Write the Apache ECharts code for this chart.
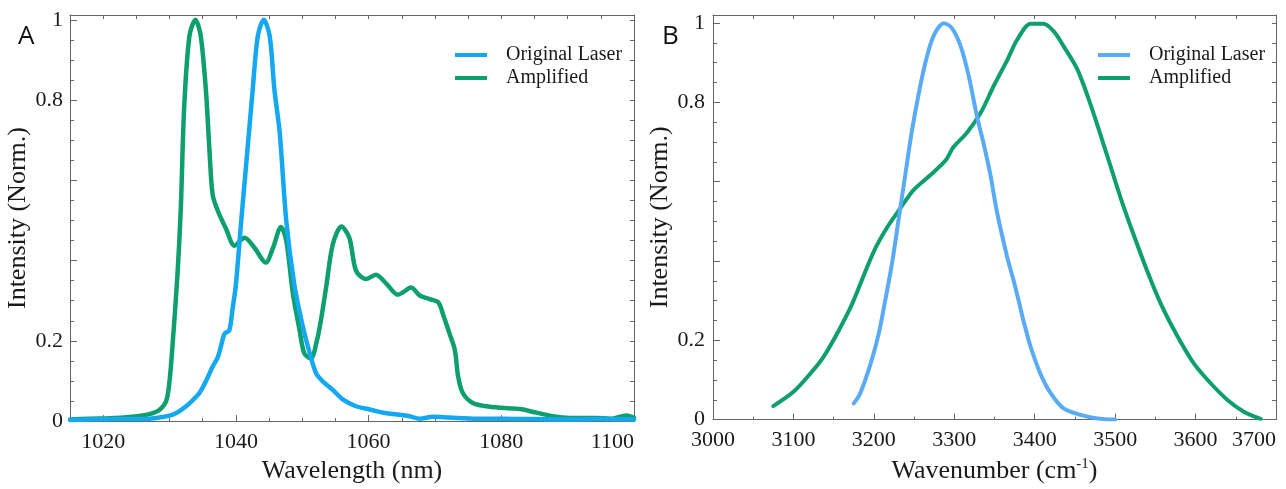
<!DOCTYPE html>
<html>
<head>
<meta charset="utf-8">
<script src="https://cdn.jsdelivr.net/npm/echarts@6/dist/echarts.min.js"></script>
<style>
  html, body { margin: 0; padding: 0; background: #ffffff; }
  #chart { width: 1286px; height: 489px; }
</style>
</head>
<body>
<div id="chart"></div>
<script>
// Panel A: spectra vs wavelength (nm), [wavelength, normalized intensity]
const laserA = [
  [1015, 0.003], [1018, 0.004], [1021, 0.005], [1024, 0.005], [1027, 0.006],
  [1029, 0.01], [1030.5, 0.016], [1031.5, 0.025], [1032.5, 0.037], [1033.5, 0.052],
  [1034.5, 0.07], [1035.5, 0.1], [1036.5, 0.136], [1037.3, 0.16], [1037.8, 0.19],
  [1038.3, 0.218], [1039, 0.226], [1039.5, 0.28], [1040, 0.34], [1040.8, 0.498],
  [1041.5, 0.63], [1042.5, 0.819], [1043.3, 0.959], [1044.2, 1.0], [1045.1, 0.959],
  [1045.8, 0.827], [1046.6, 0.72], [1047.6, 0.498], [1048.8, 0.341], [1050.1, 0.235],
  [1051.2, 0.165], [1052.1, 0.119], [1053.1, 0.099], [1054.6, 0.078], [1056.1, 0.054],
  [1058.1, 0.037], [1060.2, 0.029], [1062.2, 0.021], [1064.7, 0.016], [1066.2, 0.012],
  [1067.7, 0.006], [1069.7, 0.011], [1072.2, 0.009], [1076.3, 0.006], [1080, 0.006],
  [1085, 0.005], [1090, 0.004], [1095, 0.005], [1100, 0.004]
];
const amplifiedA = [
  [1015, 0.004], [1018, 0.006], [1021, 0.007], [1024, 0.01], [1026, 0.014],
  [1027.5, 0.02], [1028.5, 0.028], [1029.5, 0.05], [1030, 0.1], [1030.5, 0.2],
  [1031.2, 0.366], [1031.7, 0.53], [1032.2, 0.78], [1033, 0.96], [1033.9, 1.0],
  [1034.7, 0.96], [1035.5, 0.82], [1036, 0.68], [1036.5, 0.564], [1037.3, 0.523],
  [1038.5, 0.48], [1039.8, 0.437], [1041.3, 0.457], [1042.8, 0.432], [1044.5, 0.395],
  [1045.6, 0.432], [1046.8, 0.484], [1047.6, 0.449], [1048.6, 0.317], [1049.6, 0.227],
  [1050.3, 0.169], [1051.3, 0.156], [1052.2, 0.2], [1052.8, 0.25], [1053.6, 0.333],
  [1054.6, 0.44], [1055.9, 0.485], [1057.1, 0.457], [1058.1, 0.375], [1059.6, 0.354],
  [1061.1, 0.365], [1062.7, 0.342], [1064.4, 0.315], [1065.2, 0.321], [1066.4, 0.333],
  [1067.7, 0.313], [1069.2, 0.304], [1070.5, 0.296], [1071.2, 0.267], [1072.2, 0.218],
  [1073, 0.177], [1073.5, 0.111], [1074.2, 0.07], [1075.7, 0.045], [1077.7, 0.037],
  [1080, 0.033], [1082.8, 0.03], [1085.3, 0.021], [1087.8, 0.012], [1090.3, 0.008],
  [1094.4, 0.008], [1096.4, 0.006], [1098.9, 0.014], [1100, 0.008]
];

// Panel B: spectra vs wavenumber (cm-1), [wavenumber, normalized intensity]
const laserB = [
  [3175, 0.041], [3183, 0.066], [3196, 0.141], [3206, 0.216], [3214, 0.299],
  [3223, 0.399], [3231, 0.508], [3239, 0.616], [3247, 0.724], [3256, 0.824],
  [3264, 0.899], [3274, 0.966], [3287, 0.999], [3297, 0.987], [3308, 0.941],
  [3318, 0.866], [3328, 0.766], [3337, 0.691], [3345, 0.616], [3353, 0.524],
  [3366, 0.408], [3374, 0.349], [3382, 0.283], [3386, 0.249], [3395, 0.183],
  [3407, 0.116], [3420, 0.066], [3436, 0.028], [3457, 0.012], [3478, 0.003],
  [3500, 0.0]
];
const amplifiedB = [
  [3075, 0.034], [3100, 0.07], [3121, 0.116], [3137, 0.157], [3154, 0.216],
  [3171, 0.283], [3183, 0.341], [3200, 0.424], [3216, 0.483], [3233, 0.533],
  [3249, 0.578], [3270, 0.616], [3289, 0.653], [3299, 0.687], [3316, 0.724],
  [3333, 0.774], [3349, 0.841], [3366, 0.907], [3378, 0.957], [3395, 0.998],
  [3411, 0.998], [3424, 0.978], [3436, 0.941], [3453, 0.883], [3470, 0.791],
  [3490, 0.666], [3507, 0.558], [3523, 0.466], [3540, 0.374], [3557, 0.291],
  [3578, 0.208], [3598, 0.141], [3619, 0.091], [3640, 0.049], [3660, 0.02],
  [3681, 0.002]
];

// Tick labels
const yTickLabels = [0, 0.2, 0.8, 1];
const xMajorTicksA = [1020, 1040, 1060, 1080, 1100];
const seriesNames = ['Original Laser', 'Amplified'];

const serif = 'Liberation Serif';
const textColor = '#1a1a1a';
const axisColor = '#666666';
const blueA = '#13A8F0';
const blueB = '#5AABF6';
const green = '#0E9F6E';

function fmtY(v) {
  for (const t of yTickLabels) {
    if (Math.abs(v - t) < 1e-9) return String(t);
  }
  return '';
}

const tickLine = { color: axisColor, width: 1 };

function yLeft(gridIndex, max, nameGap, margin) {
  return {
    type: 'value', gridIndex, position: 'left', min: 0, max, interval: 0.2,
    axisLine: { show: true, lineStyle: tickLine },
    axisTick: { show: true, inside: true, length: 7, lineStyle: tickLine },
    minorTick: { show: true, splitNumber: 4, length: 4, lineStyle: tickLine },
    splitLine: { show: false }, minorSplitLine: { show: false },
    axisLabel: { formatter: fmtY, color: textColor, fontFamily: serif, fontSize: 22, margin },
    name: 'Intensity (Norm.)', nameLocation: 'middle', nameGap, nameRotate: 90,
    nameTextStyle: { fontFamily: serif, fontSize: 26, color: textColor }
  };
}
function yRight(gridIndex, max) {
  return {
    type: 'value', gridIndex, position: 'right', min: 0, max, interval: 0.2,
    axisLine: { show: true, lineStyle: tickLine },
    axisTick: { show: true, inside: true, length: 4, lineStyle: tickLine },
    minorTick: { show: true, splitNumber: 4, length: 4, lineStyle: tickLine },
    splitLine: { show: false }, minorSplitLine: { show: false },
    axisLabel: { show: false }
  };
}

function panelLegend(left, laserColor) {
  return {
    orient: 'vertical', left, top: 40, itemGap: 3,
    itemWidth: 32, itemHeight: 4, icon: 'rect',
    textStyle: { fontFamily: serif, fontSize: 20, color: textColor, padding: [0, 0, 0, 14] },
    data: [
      { name: seriesNames[0], itemStyle: { color: laserColor } },
      { name: seriesNames[1], itemStyle: { color: green } }
    ],
    selectedMode: false
  };
}

const panelTitleStyle = { fontFamily: 'Open Sans', fontSize: 26, fontWeight: 'normal', color: '#111' };

const option = {
  animation: false,
  backgroundColor: '#ffffff',
  title: [
    { text: 'A', left: 13, top: 19, padding: 5, textStyle: panelTitleStyle },
    { text: 'B', left: 657, top: 19, padding: 5, textStyle: panelTitleStyle }
  ],
  grid: [
    { left: 70, top: 15, width: 564, height: 411 },
    { left: 713, top: 15, width: 563, height: 409 }
  ],
  legend: [panelLegend(450, blueA), panelLegend(1093, blueB)],
  xAxis: [
    // A bottom: minor ticks every 5 nm, labels at the 20 nm marks
    {
      type: 'value', gridIndex: 0, position: 'bottom', min: 1015, max: 1100, interval: 5,
      axisLine: { show: true, onZero: false, lineStyle: tickLine },
      axisTick: { show: true, inside: true, length: 3, lineStyle: tickLine },
      splitLine: { show: false },
      axisLabel: {
        formatter: v => (xMajorTicksA.indexOf(v) >= 0 ? String(v) : ''),
        color: textColor, fontFamily: serif, fontSize: 22, margin: 10, alignMaxLabel: 'right'
      },
      name: 'Wavelength (nm)', nameLocation: 'middle', nameGap: 36,
      nameTextStyle: { fontFamily: serif, fontSize: 26, color: textColor }
    },
    // A bottom: longer major ticks
    {
      type: 'value', gridIndex: 0, position: 'bottom', min: 1015, max: 1100,
      axisLine: { show: false, onZero: false },
      axisTick: { show: true, inside: true, length: 6, lineStyle: tickLine, customValues: xMajorTicksA },
      axisLabel: { show: false }, splitLine: { show: false }
    },
    // A top
    {
      type: 'value', gridIndex: 0, position: 'top', min: 1015, max: 1100, interval: 5,
      axisLine: { show: true, onZero: false, lineStyle: tickLine },
      axisTick: { show: true, inside: true, length: 4, lineStyle: tickLine },
      axisLabel: { show: false }, splitLine: { show: false }
    },
    // B bottom
    {
      type: 'value', gridIndex: 1, position: 'bottom', min: 3000, max: 3700, interval: 100,
      axisLine: { show: true, onZero: false, lineStyle: tickLine },
      axisTick: { show: true, inside: true, length: 6, lineStyle: tickLine },
      minorTick: { show: true, splitNumber: 2, length: 3, lineStyle: tickLine },
      splitLine: { show: false }, minorSplitLine: { show: false },
      axisLabel: {
        formatter: v => String(v),
        color: textColor, fontFamily: serif, fontSize: 22, margin: 10, alignMaxLabel: 'right'
      },
      name: 'Wavenumber (cm{sup|-1})', nameLocation: 'middle', nameGap: 36,
      nameTextStyle: {
        fontFamily: serif, fontSize: 26, color: textColor,
        rich: { sup: { fontFamily: serif, fontSize: 15, color: textColor, padding: [0, 0, 14, 0] } }
      }
    },
    // B top
    {
      type: 'value', gridIndex: 1, position: 'top', min: 3000, max: 3700, interval: 100,
      axisLine: { show: true, onZero: false, lineStyle: tickLine },
      axisTick: { show: true, inside: true, length: 4, lineStyle: tickLine },
      minorTick: { show: true, splitNumber: 2, length: 4, lineStyle: tickLine },
      axisLabel: { show: false }, splitLine: { show: false }, minorSplitLine: { show: false }
    }
  ],
  yAxis: [
    yLeft(0, 1.012, 31, 7),
    yRight(0, 1.012),
    yLeft(1, 1.02, 34, 8),
    yRight(1, 1.02)
  ],
  series: [
    { name: seriesNames[0], type: 'line', xAxisIndex: 0, yAxisIndex: 0, data: laserA,
      showSymbol: false, smooth: 0.3, color: blueA,
      lineStyle: { width: 4.5, color: blueA, cap: 'round', join: 'round' }, z: 3 },
    { name: seriesNames[1], type: 'line', xAxisIndex: 0, yAxisIndex: 0, data: amplifiedA,
      showSymbol: false, smooth: 0.3, color: green,
      lineStyle: { width: 4.5, color: green, cap: 'round', join: 'round' }, z: 2 },
    { name: seriesNames[0], type: 'line', xAxisIndex: 3, yAxisIndex: 2, data: laserB,
      showSymbol: false, smooth: 0.3, color: blueB,
      lineStyle: { width: 4, color: blueB, cap: 'round', join: 'round' }, z: 3 },
    { name: seriesNames[1], type: 'line', xAxisIndex: 3, yAxisIndex: 2, data: amplifiedB,
      showSymbol: false, smooth: 0.3, color: green,
      lineStyle: { width: 4, color: green, cap: 'round', join: 'round' }, z: 2 }
  ]
};

const chart = echarts.init(document.getElementById('chart'), null, { renderer: 'canvas' });
chart.setOption(option);
</script>
</body>
</html>
